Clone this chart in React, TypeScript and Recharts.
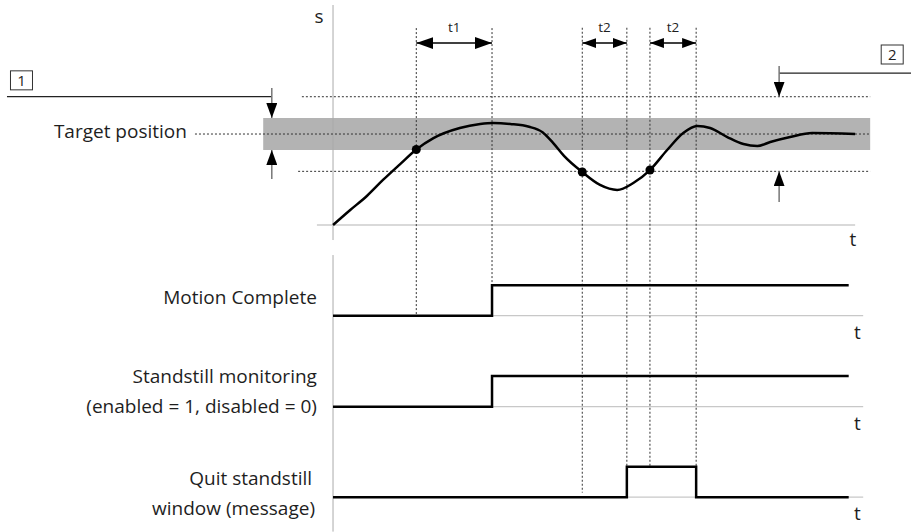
import React from "react";
import {
  ComposedChart,
  Line,
  XAxis,
  YAxis,
  ReferenceLine,
  ReferenceArea,
  ReferenceDot,
} from "recharts";

// position curve s(t)
const curveTime = [0, 3.2, 6.3, 9.3, 12.5, 15.5, 18.7, 23.6, 27.4, 29.8, 33.0, 36.5, 39.0, 41.0, 43.0, 46.4, 49.7, 52.9, 55.9, 59.0, 62.2, 65.2, 67.8, 70.2, 73.4, 76.4, 79.0, 81.4, 85.1, 89.2, 97.2];
const curvePos = [0, 16.5, 31.9, 49.5, 67.0, 83.0, 95.5, 106.6, 111.0, 112.1, 111.0, 108.0, 102.0, 90.0, 76.0, 58.2, 44.0, 38.5, 46.2, 60.4, 82.4, 101.1, 108.8, 106.6, 96.7, 89.0, 86.8, 91.2, 96.7, 101.1, 100];

const targetPos = 100;
const innerWindow = 17.6;
const outerWindow = 41;

// t1 / t2 intervals
const t1Span = [15.5, 29.6];
const t2Spans = [[46.4, 54.7], [59.0, 67.6]];

// points where the curve crosses the windows
const crossTimes = [15.5, 46.4, 59.0];
const crossPos = [83, 58.2, 60.4];

// digital signals
const motionTimes = [0, 29.6, 96];
const motionLevels = [0, 1, 1];
const standstillTimes = [0, 29.6, 96];
const standstillLevels = [0, 1, 1];
const quitTimes = [0, 54.7, 67.6, 96];
const quitLevels = [0, 1, 0, 0];

const rowLabels = [
  "Motion Complete",
  "Standstill monitoring",
  "(enabled = 1, disabled = 0)",
  "Quit standstill",
  "window (message)",
];

const curveData = curveTime.map((t, i) => ({ t, s: curvePos[i] }));
const toSignal = (times: number[], levels: number[]) =>
  times.map((t, i) => ({ t, v: levels[i] }));

const W = 911;
const H = 532;
const FONT = "'Open Sans', sans-serif";
const TXT = "#1e1e1e";
const DOT = "2 2";

function Box({ cx, cy, text }: { cx?: number; cy?: number; text: string }) {
  if (cx == null || cy == null) return null;
  return (
    <g>
      <rect x={cx - 11} y={cy - 9.5} width={22} height={19} fill="#fff" stroke="#333" strokeWidth={1} />
      <text x={cx} y={cy + 5.5} textAnchor="middle" fontSize={15} fill={TXT}>
        {text}
      </text>
    </g>
  );
}

const lbl = (value: string, position: string, fontSize = 19) => ({
  value,
  position,
  offset: 0,
  fontSize,
  fill: TXT,
});

export default function App() {
  const guideTopMc = 9.43;
  const guideTopQs = 15.39;
  const arrowY = 200;
  const lineProps = { dot: false, activeDot: false, isAnimationActive: false, stroke: "#000", strokeWidth: 2.5 };
  return (
    <div style={{ position: "absolute", left: 0, top: 0, width: W, height: H, fontFamily: FONT, background: "#fff" }}>
      <svg width={0} height={0} style={{ position: "absolute" }}>
        <defs>
          <marker id="ahL" viewBox="0 0 17 12" markerWidth={17} markerHeight={12} refX={17} refY={6} orient="auto-start-reverse" markerUnits="userSpaceOnUse">
            <path d="M0,0 L17,6 L0,12 Z" fill="#000" />
          </marker>
          <marker id="ahS" viewBox="0 0 14 10" markerWidth={14} markerHeight={10} refX={14} refY={5} orient="auto-start-reverse" markerUnits="userSpaceOnUse">
            <path d="M0,0 L14,5 L0,10 Z" fill="#000" />
          </marker>
          <marker id="ahV" viewBox="0 0 15 11" markerWidth={15} markerHeight={11} refX={15} refY={5.5} orient="auto-start-reverse" markerUnits="userSpaceOnUse">
            <path d="M0,0 L15,5.5 L0,11 Z" fill="#000" />
          </marker>
        </defs>
      </svg>
      <ComposedChart width={W} height={H} margin={{ top: 0, right: 0, bottom: 0, left: 0 }}>
        <XAxis type="number" dataKey="t" domain={[-62, 107.6]} allowDataOverflow hide />
        <YAxis yAxisId="s" type="number" domain={[-337.4, 247.3]} allowDataOverflow hide />
        <YAxis yAxisId="mc" type="number" domain={[-7.09, 10.35]} allowDataOverflow hide />
        <YAxis yAxisId="ss" type="number" domain={[-4.11, 13.33]} allowDataOverflow hide />
        <YAxis yAxisId="qs" type="number" domain={[-1.14, 16.3]} allowDataOverflow hide />

        {/* tolerance band */}
        <ReferenceArea yAxisId="s" x1={-13} x2={100} y1={targetPos - innerWindow} y2={targetPos + innerWindow} fill="#b3b3b3" fillOpacity={1} stroke="none" ifOverflow="visible" />

        {/* axes */}
        <ReferenceLine yAxisId="s" segment={[{ x: 0, y: 241.8 }, { x: 0, y: -16.5 }]} stroke="#aaaaaa" strokeWidth={1} ifOverflow="visible" />
        <ReferenceLine yAxisId="s" segment={[{ x: 0, y: -33 }, { x: 0, y: -337 }]} stroke="#aaaaaa" strokeWidth={1} ifOverflow="visible" />
        <ReferenceLine yAxisId="s" segment={[{ x: -3, y: 0 }, { x: 97.2, y: 0 }]} stroke="#cccccc" strokeWidth={1.5} ifOverflow="visible" />
        <ReferenceLine yAxisId="mc" segment={[{ x: 0.5, y: 0 }, { x: 98.7, y: 0 }]} stroke="#c8c8c8" strokeWidth={1.2} ifOverflow="visible" />
        <ReferenceLine yAxisId="ss" segment={[{ x: 0.5, y: 0 }, { x: 98.7, y: 0 }]} stroke="#c8c8c8" strokeWidth={1.2} ifOverflow="visible" />
        <ReferenceLine yAxisId="qs" segment={[{ x: 0.5, y: 0 }, { x: 98.7, y: 0 }]} stroke="#c8c8c8" strokeWidth={1.2} ifOverflow="visible" />

        {/* window limits */}
        <ReferenceLine yAxisId="s" segment={[{ x: -5.8, y: targetPos + outerWindow }, { x: 100, y: targetPos + outerWindow }]} stroke="#333" strokeDasharray={DOT} ifOverflow="visible" />
        <ReferenceLine yAxisId="s" segment={[{ x: -6.5, y: targetPos - outerWindow }, { x: 100, y: targetPos - outerWindow }]} stroke="#333" strokeDasharray={DOT} ifOverflow="visible" />
        <ReferenceLine yAxisId="s" segment={[{ x: -25.7, y: targetPos }, { x: 100, y: targetPos }]} stroke="#333" strokeDasharray={DOT} ifOverflow="visible" />

        {/* time guides */}
        <ReferenceLine yAxisId="mc" segment={[{ x: t1Span[0], y: guideTopMc }, { x: t1Span[0], y: 0 }]} stroke="#333" strokeDasharray={DOT} ifOverflow="visible" />
        <ReferenceLine yAxisId="mc" segment={[{ x: t1Span[1], y: guideTopMc }, { x: t1Span[1], y: 1 }]} stroke="#333" strokeDasharray={DOT} ifOverflow="visible" />
        <ReferenceLine yAxisId="qs" segment={[{ x: t2Spans[0][0], y: guideTopQs }, { x: t2Spans[0][0], y: 0.15 }]} stroke="#333" strokeDasharray={DOT} ifOverflow="visible" />
        <ReferenceLine yAxisId="qs" segment={[{ x: t2Spans[0][1], y: guideTopQs }, { x: t2Spans[0][1], y: 1 }]} stroke="#333" strokeDasharray={DOT} ifOverflow="visible" />
        <ReferenceLine yAxisId="qs" segment={[{ x: t2Spans[1][0], y: guideTopQs }, { x: t2Spans[1][0], y: 1 }]} stroke="#333" strokeDasharray={DOT} ifOverflow="visible" />
        <ReferenceLine yAxisId="qs" segment={[{ x: t2Spans[1][1], y: guideTopQs }, { x: t2Spans[1][1], y: 1 }]} stroke="#333" strokeDasharray={DOT} ifOverflow="visible" />

        {/* interval arrows */}
        <ReferenceLine yAxisId="s" segment={[{ x: t1Span[0], y: arrowY }, { x: t1Span[1], y: arrowY }]} stroke="#000" strokeWidth={1.5} markerStart="url(#ahL)" markerEnd="url(#ahL)" ifOverflow="visible" />
        {t2Spans.map((sp, i) => (
          <ReferenceLine key={`t2-${i}`} yAxisId="s" segment={[{ x: sp[0], y: arrowY }, { x: sp[1], y: arrowY }]} stroke="#000" strokeWidth={1.5} markerStart="url(#ahS)" markerEnd="url(#ahS)" ifOverflow="visible" />
        ))}
        <ReferenceDot yAxisId="s" x={(t1Span[0] + t1Span[1]) / 2} y={217} r={0} fill="none" stroke="none" label={lbl("t1", "center", 13.5)} ifOverflow="visible" />
        {t2Spans.map((sp, i) => (
          <ReferenceDot key={`t2l-${i}`} yAxisId="s" x={(sp[0] + sp[1]) / 2} y={217} r={0} fill="none" stroke="none" label={lbl("t2", "center", 13.5)} ifOverflow="visible" />
        ))}

        {/* callout 1: inner window */}
        <ReferenceLine yAxisId="s" segment={[{ x: -60.7, y: 141 }, { x: -11.4, y: 141 }]} stroke="#222" strokeWidth={1.2} ifOverflow="visible" />
        <ReferenceLine yAxisId="s" segment={[{ x: -11.4, y: 150.5 }, { x: -11.4, y: targetPos + innerWindow }]} stroke="#777" strokeWidth={1.5} markerEnd="url(#ahV)" ifOverflow="visible" />
        <ReferenceLine yAxisId="s" segment={[{ x: -11.4, y: 50.5 }, { x: -11.4, y: targetPos - innerWindow }]} stroke="#777" strokeWidth={1.5} markerEnd="url(#ahV)" ifOverflow="visible" />
        <ReferenceDot yAxisId="s" x={-58} y={159} r={0} shape={(p: any) => <Box cx={p.cx} cy={p.cy} text="1" />} ifOverflow="visible" />

        {/* callout 2: outer window */}
        <ReferenceLine yAxisId="s" segment={[{ x: 83.05, y: 167 }, { x: 107.6, y: 167 }]} stroke="#222" strokeWidth={1.2} ifOverflow="visible" />
        <ReferenceLine yAxisId="s" segment={[{ x: 83.05, y: 174.7 }, { x: 83.05, y: targetPos + outerWindow }]} stroke="#777" strokeWidth={1.5} markerEnd="url(#ahV)" ifOverflow="visible" />
        <ReferenceLine yAxisId="s" segment={[{ x: 83.05, y: 25.3 }, { x: 83.05, y: targetPos - outerWindow }]} stroke="#777" strokeWidth={1.5} markerEnd="url(#ahV)" ifOverflow="visible" />
        <ReferenceDot yAxisId="s" x={104.1} y={187.4} r={0} shape={(p: any) => <Box cx={p.cx} cy={p.cy} text="2" />} ifOverflow="visible" />

        {/* series */}
        <Line yAxisId="s" data={curveData} dataKey="s" type="monotone" {...lineProps} />
        <Line yAxisId="mc" data={toSignal(motionTimes, motionLevels)} dataKey="v" type="stepAfter" {...lineProps} />
        <Line yAxisId="ss" data={toSignal(standstillTimes, standstillLevels)} dataKey="v" type="stepAfter" {...lineProps} />
        <Line yAxisId="qs" data={toSignal(quitTimes, quitLevels)} dataKey="v" type="stepAfter" {...lineProps} />

        {crossTimes.map((t, i) => (
          <ReferenceDot key={`c-${i}`} yAxisId="s" x={t} y={crossPos[i]} r={4.5} fill="#000" stroke="none" ifOverflow="visible" />
        ))}

        {/* text */}
        <ReferenceDot yAxisId="s" x={-2.6} y={229} r={0} fill="none" stroke="none" label={lbl("s", "center")} ifOverflow="visible" />
        <ReferenceDot yAxisId="s" x={96.8} y={-16} r={0} fill="none" stroke="none" label={lbl("t", "center")} ifOverflow="visible" />
        <ReferenceDot yAxisId="mc" x={97.6} y={-0.53} r={0} fill="none" stroke="none" label={lbl("t", "center")} ifOverflow="visible" />
        <ReferenceDot yAxisId="ss" x={97.6} y={-0.53} r={0} fill="none" stroke="none" label={lbl("t", "center")} ifOverflow="visible" />
        <ReferenceDot yAxisId="qs" x={97.6} y={-0.53} r={0} fill="none" stroke="none" label={lbl("t", "center")} ifOverflow="visible" />
        <ReferenceDot yAxisId="s" x={-27.2} y={102.6} r={0} fill="none" stroke="none" label={lbl("Target position", "left")} ifOverflow="visible" />
        <ReferenceDot yAxisId="mc" x={-3} y={0.61} r={0} fill="none" stroke="none" label={lbl(rowLabels[0], "left")} ifOverflow="visible" />
        <ReferenceDot yAxisId="ss" x={-3} y={0.99} r={0} fill="none" stroke="none" label={lbl(rowLabels[1], "left")} ifOverflow="visible" />
        <ReferenceDot yAxisId="ss" x={-3} y={0} r={0} fill="none" stroke="none" label={lbl(rowLabels[2], "left")} ifOverflow="visible" />
        <ReferenceDot yAxisId="qs" x={-3.9} y={0.61} r={0} fill="none" stroke="none" label={lbl(rowLabels[3], "left")} ifOverflow="visible" />
        <ReferenceDot yAxisId="qs" x={-3.35} y={-0.37} r={0} fill="none" stroke="none" label={lbl(rowLabels[4], "left")} ifOverflow="visible" />
      </ComposedChart>
    </div>
  );
}
